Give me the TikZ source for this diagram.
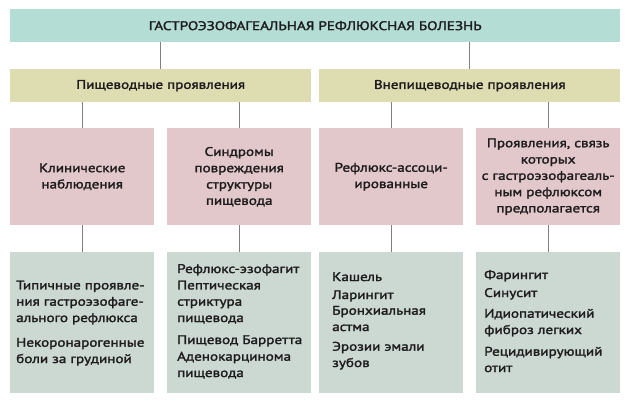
\documentclass[tikz,border=0pt]{standalone}
\usepackage{fontspec}
\setmainfont{PT Sans}[FakeStretch=1.21,FakeBold=2]
\begin{document}
\begin{tikzpicture}[x=1pt,y=-1pt,
  box/.style={draw=none,inner sep=0pt,anchor=north west,align=center,text=txt,font=\fontsize{12.5}{16.3}\selectfont},
  conn/.style={draw=linegray,line width=1.3pt},
  item/.style={anchor=base west,inner sep=0pt,align=left,text=txt,font=\fontsize{12.5}{16.3}\selectfont}]
\definecolor{teal1}{RGB}{180,221,213}
\definecolor{khaki}{RGB}{222,221,178}
\definecolor{pink1}{RGB}{226,200,202}
\definecolor{sage}{RGB}{204,216,210}
\definecolor{linegray}{RGB}{128,128,128}
\definecolor{txt}{RGB}{30,28,30}
\useasboundingbox (0,0) rectangle (631,404);
\fill[white] (0,0) rectangle (631,404);
% top
\node[box,fill=teal1,minimum width=610pt,minimum height=33pt] (top) at (10,9) {ГАСТРОЭЗОФАГЕАЛЬНАЯ РЕФЛЮКСНАЯ БОЛЕЗНЬ};
% second row
\node[box,fill=khaki,minimum width=301pt,minimum height=33pt] (l2) at (10,69) {Пищеводные проявления};
\node[box,fill=khaki,minimum width=301pt,minimum height=33pt] (r2) at (319,69) {Внепищеводные проявления};
% third row
\node[box,fill=pink1,minimum width=144pt,minimum height=97pt] (c1) at (10,128) {Клинические\\наблюдения};
\node[box,fill=pink1,minimum width=144pt,minimum height=97pt] (c2) at (167,128) {Синдромы\\повреждения\\структуры\\пищевода};
\node[box,fill=pink1,minimum width=144pt,minimum height=97pt] (c3) at (319,128) {Рефлюкс-ассоци-\\ированные};
\node[box,fill=pink1,minimum width=144pt,minimum height=97pt] (c4) at (476,128) {Проявления, связь\\которых\\с гастроэзофагеаль-\\ным рефлюксом\\предполагается};
% fourth row
\node[box,fill=sage,minimum width=144pt,minimum height=141pt] (b1) at (10,252) {};
\node[box,fill=sage,minimum width=144pt,minimum height=141pt] (b2) at (167,252) {};
\node[box,fill=sage,minimum width=144pt,minimum height=141pt] (b3) at (319,252) {};
\node[box,fill=sage,minimum width=144pt,minimum height=141pt] (b4) at (476,252) {};
% connectors
\draw[conn] (top.south -| l2.north) -- (l2.north);
\draw[conn] (top.south -| r2.north) -- (r2.north);
\draw[conn] (l2.south -| c1.north) -- (c1.north);
\draw[conn] (l2.south -| c2.north) -- (c2.north);
\draw[conn] (r2.south -| c3.north) -- (c3.north);
\draw[conn] (r2.south -| c4.north) -- (c4.north);
\draw[conn] (c1.south) -- (b1.north);
\draw[conn] (c2.south) -- (b2.north);
\draw[conn] (c3.south) -- (b3.north);
\draw[conn] (c4.south) -- (b4.north);
% column 1 items (anchor = baseline of last line)
\node[item] (i11) at (16,322) {Типичные проявле-\\ния гастроэзофаге-\\ального рефлюкса};
\node[item] (i12) at (16,363) {Некоронарогенные\\боли за грудиной};
% column 2 items
\node[item] (i21) at (177,273) {Рефлюкс-эзофагит};
\node[item] (i22) at (177,322) {Пептическая\\стриктура\\пищевода};
\node[item] (i23) at (177,344) {Пищевод Барретта};
\node[item] (i24) at (177,377) {Аденокарцинома\\пищевода};
% column 3 items
\node[item] (i31) at (332,281) {Кашель};
\node[item] (i32) at (332,299) {Ларингит};
\node[item] (i33) at (332,331) {Бронхиальная\\астма};
\node[item] (i34) at (332,367) {Эрозии эмали\\зубов};
% column 4 items
\node[item] (i41) at (484,279) {Фарингит};
\node[item] (i42) at (484,297) {Синусит};
\node[item] (i43) at (484,334) {Идиопатический\\фиброз легких};
\node[item] (i44) at (484,372) {Рецидивирующий\\отит};
\end{tikzpicture}
\end{document}
